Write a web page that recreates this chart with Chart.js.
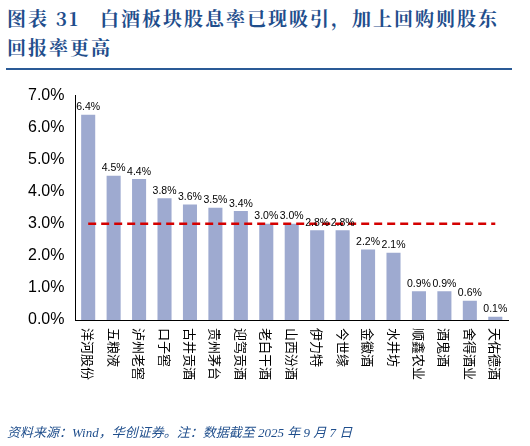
<!DOCTYPE html><html><head><meta charset="utf-8">
<script src="https://cdn.jsdelivr.net/npm/chart.js@4/dist/chart.umd.min.js"></script>
<style>
body{margin:0;width:530px;height:446px;background:#fff;position:relative;overflow:hidden;font-family:"Noto Sans CJK SC";}
#t{position:absolute;left:7px;top:3px;font-family:"Noto Serif CJK SC","Noto Sans CJK SC";font-weight:bold;color:#1f4e8c;font-size:19px;line-height:29px;letter-spacing:2px}
#r{position:absolute;left:6px;top:68px;width:506px;height:2px;background:#2a5a96}
#c{position:absolute;left:0;top:80px;width:530px;height:346px}
#f{position:absolute;left:7px;top:422px;font-size:13px;font-style:italic;font-family:"Liberation Serif","Noto Sans CJK SC";color:#1f4e8c}
</style></head><body>
<div id="t">图表 31&nbsp;&nbsp;&nbsp;白酒板块股息率已现吸引，加上回购则股东<br>回报率更高</div>
<div id="r"></div>
<div id="c"><canvas id="cv"></canvas></div>
<div id="f">资料来源：Wind，华创证券。注：数据截至 2025 年 9 月 7 日</div>
<script>
const categories=["洋河股份","五粮液","泸州老窖","口子窖","古井贡酒","贵州茅台","迎驾贡酒","老白干酒","山西汾酒","伊力特","今世缘","金徽酒","水井坊","顺鑫农业","酒鬼酒","舍得酒业","天佑德酒"];
const dividendYield=[6.4,4.5,4.4,3.8,3.6,3.5,3.4,3.0,3.0,2.8,2.8,2.2,2.1,0.9,0.9,0.6,0.1];
const referenceLine=[3,3,3,3,3,3,3,3,3,3,3,3,3,3,3,3,3];
const yTicks=[0,1,2,3,4,5,6,7];
const plug={id:'p',afterDatasetsDraw(ch){const c=ch.ctx,x=ch.scales.x;const m=ch.getDatasetMeta(1);
c.save();c.fillStyle='#000';c.font='10.5px "Liberation Sans"';c.textAlign='center';c.textBaseline='bottom';
m.data.forEach((b,i)=>c.fillText(dividendYield[i].toFixed(1)+'%',b.x,b.y-2));
c.font='13px "Noto Sans CJK SC"';
categories.forEach((s,i)=>{const px=x.getPixelForValue(i);c.save();c.translate(px,ch.chartArea.bottom+8);c.rotate(Math.PI/2);c.textAlign='left';c.textBaseline='middle';c.fillText(s,0,0);c.restore();});
c.restore();}};
new Chart(document.getElementById('cv'),{data:{labels:categories,datasets:[
{type:'line',data:referenceLine,borderColor:'#d40000',borderWidth:2.5,borderDash:[8,5],pointRadius:0,order:0},
{type:'bar',data:dividendYield,backgroundColor:'#9eaad0',categoryPercentage:0.85,barPercentage:0.65,order:1}]},
options:{responsive:true,maintainAspectRatio:false,animation:false,layout:{padding:{left:22,right:22,top:12,bottom:106}},
plugins:{legend:{display:false},tooltip:{enabled:false}},
scales:{x:{grid:{display:false,drawTicks:false},border:{color:'#000'},ticks:{display:false}},
y:{min:0,max:7,afterBuildTicks:s=>{s.ticks=yTicks.map(v=>({value:v}))},grid:{display:false,drawTicks:true,tickLength:5,color:'#000'},border:{color:'#000'},ticks:{color:'#000',font:{size:16,family:'"Liberation Sans"'},padding:6,callback:v=>v.toFixed(1)+'%'}}}},
plugins:[plug]});
</script></body></html>
